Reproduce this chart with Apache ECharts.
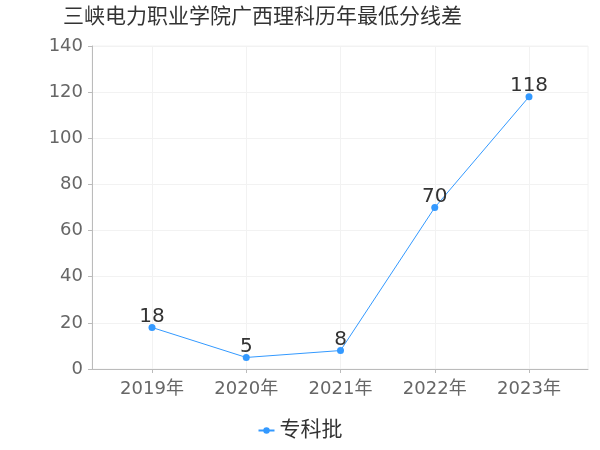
<!DOCTYPE html>
<html>
<head>
<meta charset="utf-8">
<script src="https://cdn.jsdelivr.net/npm/echarts@6/dist/echarts.min.js"></script>
<style>html,body{margin:0;padding:0;background:#fff}#c{width:600px;height:450px}</style>
</head>
<body>
<div id="c"></div>
<script>
const titleText = '三峡电力职业学院广西理科历年最低分线差';
const categories = ['2019年', '2020年', '2021年', '2022年', '2023年'];
const seriesName = '专科批';
const values = [18, 5, 8, 70, 118];
const yMin = 0, yMax = 140, yInterval = 20;

const font = '"DejaVu Sans", "Noto Sans CJK SC", sans-serif';
const chart = echarts.init(document.getElementById('c'));
chart.setOption({
  animation: false,
  textStyle: { fontFamily: font },
  title: {
    text: titleText, left: 58, top: 2,
    textStyle: { fontSize: 21, fontWeight: 'normal', color: '#333', fontFamily: font }
  },
  legend: {
    data: [seriesName], bottom: 4, left: 'center',
    itemWidth: 16, itemHeight: 8, itemGap: 6,
    textStyle: { fontSize: 21, color: '#333', fontFamily: font }
  },
  grid: [
    { left: 92, right: 12, top: 46, bottom: 81, show: true, borderColor: '#f2f2f2', borderWidth: 1, backgroundColor: 'transparent' },
    { left: 152, right: 71, top: 46, bottom: 81 }
  ],
  xAxis: [
    { type: 'value', gridIndex: 0, min: 0, max: 1, offset: 2,
      axisLine: { show: true, lineStyle: { color: '#bbb' } },
      axisTick: { show: false }, axisLabel: { show: false }, splitLine: { show: false } },
    { type: 'category', gridIndex: 1, data: categories, boundaryGap: false, offset: 2,
      axisLine: { show: false },
      axisTick: { show: true, length: 4, lineStyle: { color: '#bbb' } },
      axisLabel: { fontSize: 18, color: '#666', margin: 9, fontFamily: font },
      splitLine: { show: true, lineStyle: { color: '#f2f2f2' } } }
  ],
  yAxis: [
    { type: 'value', gridIndex: 0, min: yMin, max: yMax, interval: yInterval, offset: 3,
      axisLine: { show: true, lineStyle: { color: '#bbb' } },
      axisTick: { show: true, length: 4, lineStyle: { color: '#bbb' } },
      axisLabel: { fontSize: 18, color: '#666', margin: 6, fontFamily: font },
      splitLine: { show: true, lineStyle: { color: '#f2f2f2' } } },
    { type: 'value', gridIndex: 1, min: yMin, max: yMax, interval: yInterval, show: false,
      splitLine: { show: false } }
  ],
  series: [{
    name: seriesName, type: 'line', xAxisIndex: 1, yAxisIndex: 1,
    data: values, symbol: 'circle', symbolSize: 7,
    itemStyle: { color: '#3399ff' },
    lineStyle: { color: '#3399ff', width: 1 },
    label: { show: true, position: 'top', fontSize: 20, color: '#333', distance: -3, fontFamily: font }
  }]
});
</script>
</body>
</html>
